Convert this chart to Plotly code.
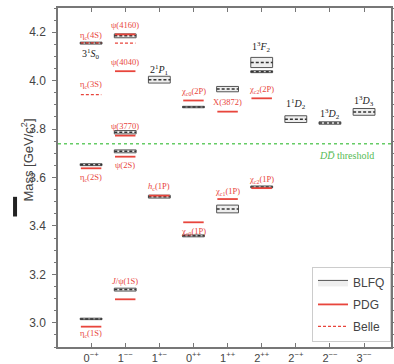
import plotly.graph_objects as go

# ---------------- data ----------------
categories = ["0<sup>−+</sup>", "1<sup>−−</sup>", "1<sup>+−</sup>", "0<sup>++</sup>", "1<sup>++</sup>",
              "2<sup>++</sup>", "2<sup>−+</sup>", "2<sup>−−</sup>", "3<sup>−−</sup>"]

# BLFQ predictions: category index, mass (GeV), half-height of box (uncertainty)
blfq_cat  = [0,     0,     0,     1,     1,     1,     1,     2,     2,     3,     3,     4,     4,     5,     5,     5,     6,     7,     8]
blfq_mass = [3.016, 3.653, 4.155, 3.137, 3.708, 3.787, 4.185, 3.521, 4.004, 3.359, 3.891, 3.470, 3.965, 3.561, 4.075, 4.037, 3.841, 3.825, 3.871]
blfq_err  = [0.003, 0.004, 0.004, 0.006, 0.006, 0.007, 0.008, 0.006, 0.014, 0.004, 0.003, 0.016, 0.011, 0.004, 0.021, 0.004, 0.014, 0.005, 0.014]

# PDG masses
pdg_cat  = [0,     0,     1,     1,     1,     1,     1,     2,     3,     3,     4,     4,     5,     5]
pdg_mass = [2.984, 3.638, 3.097, 3.686, 3.773, 4.039, 4.191, 3.525, 3.415, 3.918, 3.511, 3.872, 3.556, 3.927]

# Belle candidates
belle_cat  = [0,     0,     1]
belle_mass = [3.942, 4.156, 4.155]

dd_threshold = 3.739

# state labels: category, mass position, text, kind ("exp" red / "th" black)
label_cat  = [0, 0, 0, 0, 0,
              1, 1, 1, 1, 1,
              2, 2,
              3, 3,
              4, 4,
              5, 5, 5,
              6, 7, 8]
label_mass = [4.186, 4.111, 3.985, 3.598, 2.956,
              4.228, 4.078, 3.814, 3.651, 3.171,
              3.561, 4.044,
              3.957, 3.379,
              3.911, 3.541,
              3.963, 3.592, 4.140,
              3.904, 3.862, 3.914]
label_text = ["η<sub>c</sub>(4S)", "3<sup>1</sup><i>S</i><sub>0</sub>", "η<sub>c</sub>(3S)", "η<sub>c</sub>(2S)", "η<sub>c</sub>(1S)",
              "ψ(4160)", "ψ(4040)", "ψ(3770)", "ψ(2S)", "<i>J</i>/ψ(1S)",
              "<i>h</i><sub>c</sub>(1P)", "2<sup>1</sup><i>P</i><sub>1</sub>",
              "χ<sub>c0</sub>(2P)", "χ<sub>c0</sub>(1P)",
              "X(3872)", "χ<sub>c1</sub>(1P)",
              "χ<sub>c2</sub>(2P)", "χ<sub>c2</sub>(1P)", "1<sup>3</sup><i>F</i><sub>2</sub>",
              "1<sup>1</sup><i>D</i><sub>2</sub>", "1<sup>3</sup><i>D</i><sub>2</sub>", "1<sup>3</sup><i>D</i><sub>3</sub>"]
label_kind = ["exp", "th", "exp", "exp", "exp",
              "exp", "exp", "exp", "exp", "exp",
              "exp", "th",
              "exp", "exp",
              "exp", "exp",
              "exp", "exp", "th",
              "th", "th", "th"]

# ---------------- styling ----------------
RED = "#e8453c"
GRAY = "#444444"
BOX_W = 0.32
LINE_W = 0.30

fig = go.Figure()

# BLFQ boxes
bx, by, cx, cy = [], [], [], []
for c, m, e in zip(blfq_cat, blfq_mass, blfq_err):
    bx += [c - BOX_W, c + BOX_W, c + BOX_W, c - BOX_W, c - BOX_W, None]
    by += [m - e, m - e, m + e, m + e, m - e, None]
    cx += [c - BOX_W, c + BOX_W, None]
    cy += [m, m, None]

fig.add_trace(go.Scatter(x=bx, y=by, mode="lines", fill="toself", fillcolor="#eeeeee",
                         line=dict(color="#555555", width=1), name="BLFQ",
                         legendgroup="a", hoverinfo="skip"))
fig.add_trace(go.Scatter(x=cx, y=cy, mode="lines", line=dict(color="#333333", width=1.5, dash="3px,2px"),
                         showlegend=False, hoverinfo="skip"))

# PDG lines
px_, py_ = [], []
for c, m in zip(pdg_cat, pdg_mass):
    px_ += [c - LINE_W, c + LINE_W, None]
    py_ += [m, m, None]
fig.add_trace(go.Scatter(x=px_, y=py_, mode="lines", line=dict(color=RED, width=1.8),
                         name="PDG", legendgroup="b", hoverinfo="skip"))

# Belle lines
ex, ey = [], []
for c, m in zip(belle_cat, belle_mass):
    ex += [c - LINE_W, c + LINE_W, None]
    ey += [m, m, None]
fig.add_trace(go.Scatter(x=ex, y=ey, mode="lines", line=dict(color=RED, width=1.3, dash="3px,2px"),
                         name="Belle", legendgroup="c", hoverinfo="skip"))

# DD threshold
fig.add_shape(type="line", xref="paper", x0=0, x1=1, yref="y", y0=dd_threshold, y1=dd_threshold,
              line=dict(color="#66cc66", width=1.5, dash="dot"))
fig.add_annotation(x=7.48, y=dd_threshold - 0.048, xref="x", yref="y", showarrow=False,
                   text="<i>D</i><i>D̅</i> threshold",
                   font=dict(family="Liberation Serif", size=10, color="#55bb55"))

# state labels
for c, m, t, k in zip(label_cat, label_mass, label_text, label_kind):
    if k == "exp":
        f = dict(family="Liberation Serif", size=8.5, color=RED)
    else:
        f = dict(family="Liberation Serif", size=10, color="#222222")
    fig.add_annotation(x=c, y=m, xref="x", yref="y", text=t, showarrow=False, font=f)

# axis title (placed as annotation)
fig.add_annotation(xref="paper", yref="paper", x=-0.093, y=0.55, xanchor="center", yanchor="middle",
                   textangle=-90, showarrow=False,
                   text="Mass [GeV/<i>c</i><sup>2</sup>]",
                   font=dict(family="Liberation Sans", size=13, color=GRAY))
# stray mark to the left of the title
fig.add_shape(type="line", xref="paper", yref="paper", x0=-0.129, x1=-0.129, y0=0.385, y1=0.443,
              line=dict(color="#222222", width=4))

fig.update_layout(
    width=394, height=364,
    margin=dict(l=58, r=3, t=8, b=16.5, autoexpand=False),
    plot_bgcolor="white", paper_bgcolor="white",
    font=dict(family="Liberation Sans", size=12, color=GRAY),
    showlegend=True,
    legend=dict(x=1.0, xanchor="right", y=0.015, yanchor="bottom",
                bgcolor="white", bordercolor="#cccccc", borderwidth=1,
                font=dict(family="Liberation Sans", size=12, color=GRAY),
                itemwidth=30, tracegroupgap=3),
)
fig.update_xaxes(range=[-0.97, 8.79], tickvals=list(range(len(categories))), ticktext=categories,
                 automargin=False,
                 showgrid=False, zeroline=False, showline=True, linecolor="#777777", linewidth=1.5,
                 mirror="ticks", ticks="inside", ticklen=4, tickcolor="#777777",
                 tickfont=dict(size=11, color=GRAY))
fig.update_yaxes(range=[2.9, 4.3], dtick=0.2, tick0=3.0, tickformat=".1f",
                 automargin=False,
                 showgrid=False, zeroline=False, showline=True, linecolor="#777777", linewidth=1.5,
                 mirror="ticks", ticks="outside", ticklen=4, tickcolor="#777777",
                 ticklabelstandoff=4,
                 minor=dict(dtick=0.05, ticks="outside", ticklen=2, tickcolor="#777777"),
                 tickfont=dict(size=12, color=GRAY))

fig.write_html("out.html", config={"displayModeBar": False},
               post_script="document.body.style.margin='0';document.body.style.overflow='hidden';")
